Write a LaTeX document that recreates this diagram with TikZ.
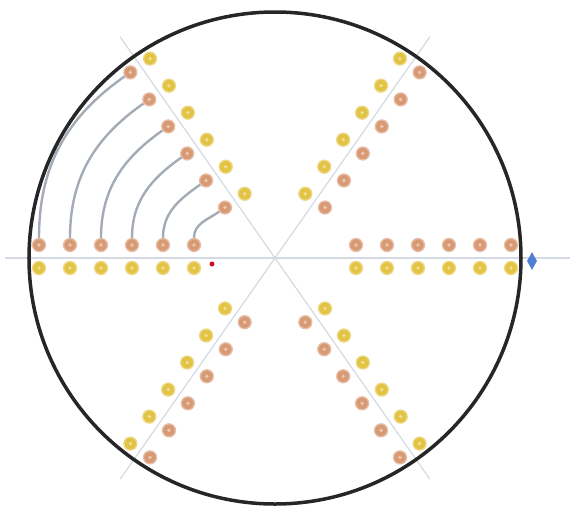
\documentclass[tikz,border=0pt]{standalone}
\usetikzlibrary{calc,shapes.geometric}
\usepackage{xcolor}
\definecolor{ringdark}{HTML}{262626}
\definecolor{spokegray}{HTML}{D3DAE3}
\definecolor{arcgray}{HTML}{A3ABB5}
\definecolor{ptorange}{HTML}{D89A74}
\definecolor{ptyellow}{HTML}{E2C343}
\definecolor{markblue}{HTML}{4E7FD2}
\definecolor{markred}{HTML}{D0101C}

\begin{document}
\begin{tikzpicture}[x=1pt, y=1pt,
    orangept/.style={circle, inner sep=0pt, minimum size=13pt, fill=ptorange,
                     draw=ptorange!65!white, line width=1.3pt,
                     path picture={\fill[white, opacity=0.45] (path picture bounding box.center) circle (1.9pt);}},
    yellowpt/.style={orangept, fill=ptyellow, draw=ptyellow!65!white},
    spoke/.style={draw=spokegray, line width=1.2pt},
    arcline/.style={draw=arcgray, line width=2.4pt}]
  \useasboundingbox (-275,-249) rectangle (298,258);
  % Spokes: three lines through the centre
  \draw[spoke] (-270,0) -- (295,0);
  \draw[spoke] (235:270) -- (55:270);
  \draw[spoke] (125:270) -- (305:270);
  % Horizontal rays: orange above, yellow below
  \foreach \k in {0,...,5} {
    \pgfmathsetmacro\d{81+31*\k}
    \node[orangept] (lo\k) at (-\d,13)  {};
    \node[yellowpt] (ly\k) at (-\d,-10) {};
    \node[orangept] (ro\k) at (\d,13)   {};
    \node[yellowpt] (ry\k) at (\d,-10)  {};
  }
  % Slanted rays: orange on the side of the neighbouring ray
  \foreach \a/\s/\n in {55/-90/ur, 125/90/ul, 235/90/ll, 305/-90/lr} {
    \foreach \k in {0,...,5} {
      \pgfmathsetmacro\d{70+33*\k}
      \pgfmathsetmacro\p{\a+\s}
      \pgfmathsetmacro\q{\a-\s}
      \node[orangept] (\n o\k) at ($(\a:\d)+(\p:12)$) {};
      \node[yellowpt] (\n y\k) at ($(\a:\d)+(\q:12)$) {};
    }
  }
  % Arcs from the left ray up to the upper-left ray
  \foreach \k in {0,...,5}
    \draw[arcline] (lo\k) to[out=90, in=215] (ulo\k);
  % Outer circle
  \draw[ringdark, line width=3.5pt] (0,0) circle (246);
  % Markers
  \node[circle, fill=markred, inner sep=0pt, minimum size=5pt] (redmark) at (-63,-6) {};
  \node[diamond, fill=markblue, inner sep=0pt, minimum width=10pt, minimum height=18pt] (bluemark) at (257,-3) {};
\end{tikzpicture}
\end{document}
